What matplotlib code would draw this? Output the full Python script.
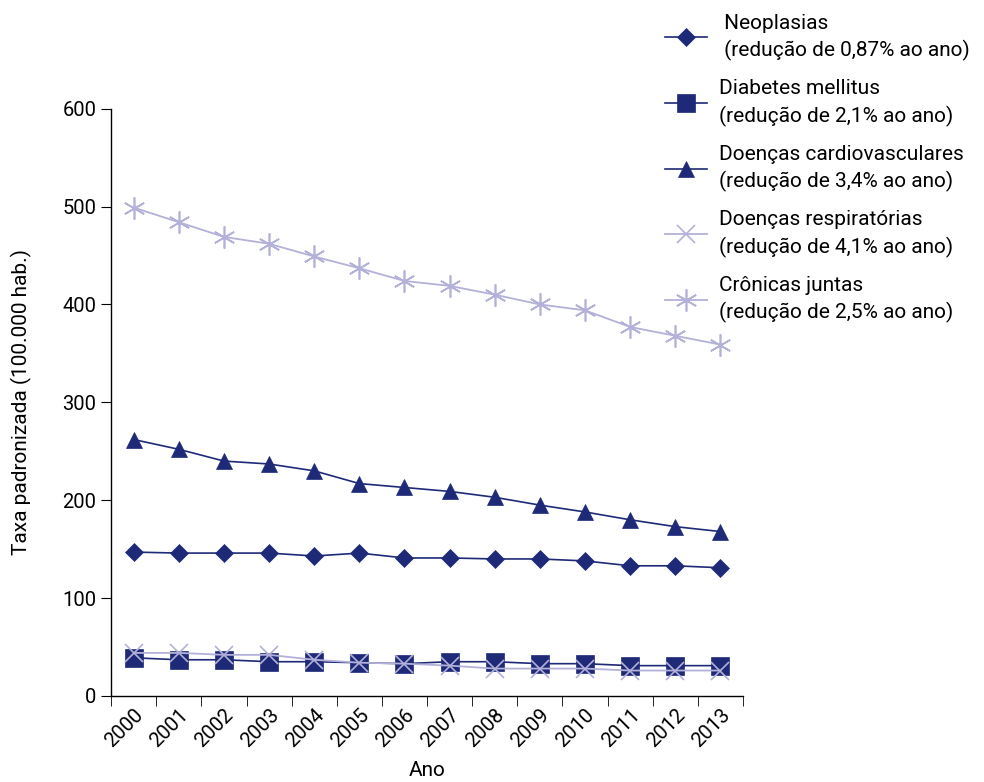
import numpy as np
import matplotlib.pyplot as plt
from matplotlib.transforms import ScaledTranslation

# values
years = ['2000', '2001', '2002', '2003', '2004', '2005', '2006',
         '2007', '2008', '2009', '2010', '2011', '2012', '2013']
neoplasias = [147, 146, 146, 146, 143, 146, 141, 141, 140, 140, 138, 133, 133, 131]
diabetes = [39, 37, 37, 35, 35, 34, 33, 35, 35, 33, 33, 31, 31, 31]
cardio = [262, 252, 240, 237, 230, 217, 213, 209, 203, 195, 188, 180, 173, 168]
respiratorias = [44, 44, 42, 42, 37, 34, 33, 31, 28, 28, 28, 26, 26, 26]
cronicas = [499, 484, 469, 462, 449, 437, 424, 419, 410, 400, 394, 377, 368, 359]

labels = [' Neoplasias\n (redução de 0,87% ao ano)',
          'Diabetes mellitus\n(redução de 2,1% ao ano)',
          'Doenças cardiovasculares\n(redução de 3,4% ao ano)',
          'Doenças respiratórias\n(redução de 4,1% ao ano)',
          'Crônicas juntas\n(redução de 2,5% ao ano)']

NAVY = '#1e2a78'
LIGHT = '#b3b1d9'

plt.rcParams['font.family'] = ['Roboto', 'DejaVu Sans']
plt.rcParams['font.size'] = 15

fig = plt.figure(figsize=(9.84, 7.82), dpi=100)
ax = fig.add_axes([0.113, 0.110, 0.642, 0.751])

x = np.arange(len(years))
series = [
    (neoplasias, NAVY, 'D', 9, 1.2),
    (diabetes, NAVY, 's', 13, 1.2),
    (cardio, NAVY, '^', 12, 1.2),
    (respiratorias, LIGHT, 'x', 13, 1.3),
    (cronicas, LIGHT, (6, 2, 0), 16, 1.3),
]
for (vals, col, mk, ms, lw), lab in zip(series, labels):
    ax.plot(x, vals, color=col, marker=mk, markersize=ms, linewidth=lw,
            markeredgewidth=1.2 if col == LIGHT else 0.5, label=lab)

ax.set_xlim(-0.5, len(years) - 0.5)
ax.set_ylim(0, 600)
ax.set_yticks(np.arange(0, 601, 100))
ax.tick_params(axis='y', length=7, direction='out', labelsize=14.5)

ax.set_xticks(x)
ax.set_xticklabels(years, rotation=45, ha='right', rotation_mode='anchor',
                   fontsize=14.5)
shift = ScaledTranslation(16 / 100, 0, fig.dpi_scale_trans)
for t in ax.get_xticklabels():
    t.set_transform(t.get_transform() + shift)
ax.set_xticks(np.arange(-0.5, len(years), 1), minor=True)
ax.tick_params(axis='x', which='major', length=0, pad=7)
ax.tick_params(axis='x', which='minor', length=7, direction='out')

for s in ['top', 'right']:
    ax.spines[s].set_visible(False)
for s in ['left', 'bottom']:
    ax.spines[s].set_linewidth(1.0)

ax.set_ylabel('Taxa padronizada (100.000 hab.)', labelpad=22)
ax.set_xlabel('Ano', labelpad=7)

leg = fig.legend(loc='upper left', bbox_to_anchor=(0.662, 1.0), frameon=False,
                 handlelength=2.0, labelspacing=0.87, handletextpad=0.6,
                 borderaxespad=0.25)
for t in leg.get_texts():
    t.set_linespacing(1.45)

fig.savefig('out.png', dpi=100)
